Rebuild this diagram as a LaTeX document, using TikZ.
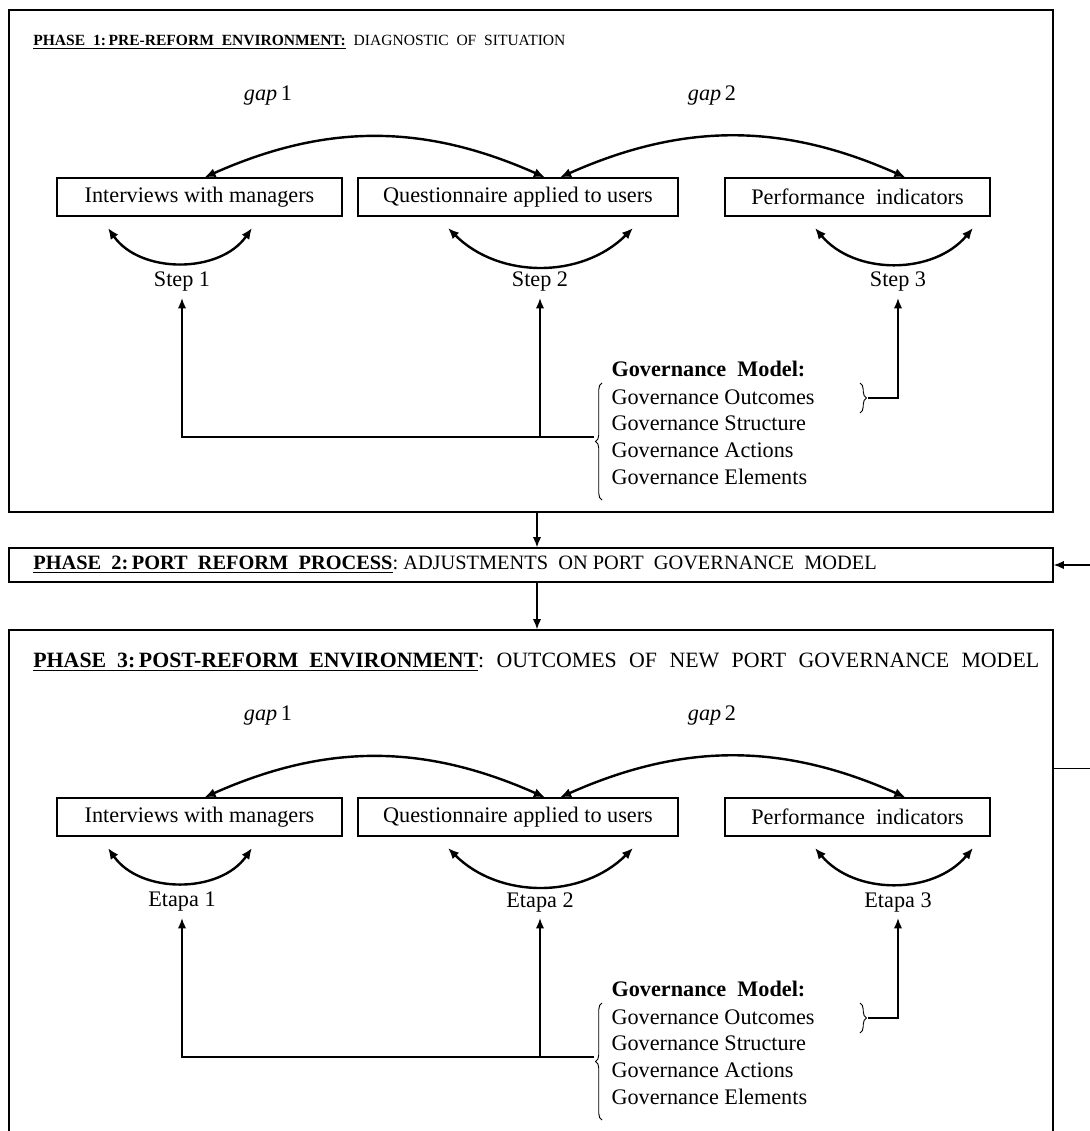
\documentclass[tikz,border=0pt]{standalone}
\usepackage{fontspec}
\setmainfont{Liberation Serif}
\usetikzlibrary{arrows.meta,positioning,calc,decorations.pathreplacing}

\tikzset{
  phasebox/.style={draw, line width=0.8pt, minimum width=563.76pt, inner sep=0pt},
  hdtext/.style={anchor=west, inner sep=0pt, font=\fontsize{#1}{14}\selectfont},
  taskbox/.style={draw, line width=0.7pt, minimum height=20.5pt, inner sep=0pt},
  twoway/.style={{Latex[length=6pt,width=5pt]}-{Latex[length=6pt,width=5pt]}, line width=1.3pt},
  feed/.style={-{Latex[length=5.5pt,width=4.5pt]}, line width=0.7pt},
  gbrace/.style={decorate, decoration={brace, amplitude=3.5pt}, line width=0.5pt},
}

\begin{document}
\begin{tikzpicture}[x=0.54pt,y=-0.54pt,font=\fontsize{12}{14.4}\selectfont]
\useasboundingbox (0,0) rectangle (1090,1131);
% phase frames
\node[phasebox, minimum height=271.08pt] (ph1) at (531,261) {};
\node[phasebox, minimum height=18.36pt] (ph2) at (531,565) {};
\node[phasebox, minimum height=278.1pt] (ph3) at (531,887.5) {};
\node[hdtext=8.4] (hd1) at (33,42) {\textbf{\underline{PHASE\ \ 1:\,PRE-REFORM\ \ ENVIRONMENT:}}\ \ DIAGNOSTIC\ \ OF\ \ SITUATION};
\node[hdtext=11] (hd2) at (33,565) {\textbf{\underline{PHASE\ \ 2:\,PORT\ \ REFORM\ \ PROCESS}}:\ ADJUSTMENTS\ \ ON\ PORT\ \ GOVERNANCE\ \ MODEL};
\node[hdtext=11.8] (hd3) at (33,662) {\textbf{\underline{PHASE\ \ 3:\,POST-REFORM\ \ ENVIRONMENT}}\makebox[303pt][s]{:\ \ OUTCOMES\ \ OF\ \ NEW\ \ PORT\ \ GOVERNANCE\ \ MODEL}};
\draw[feed] ($(ph1.south)+(6,0)$) -- ($(ph2.north)+(6,0)$);
\draw[feed] ($(ph2.south)+(6,0)$) -- ($(ph3.north)+(6,0)$);
\draw[feed] ($(ph3.north east)+(0,139)$) -- ++(60,0) |- (ph2.east);
% same layout in phase 1 and phase 3
\foreach \p/\off/\word in {1/0/Step,3/620/Etapa} {
  \node[taskbox, minimum width=153.9pt] (int\p) at (199.5,197+\off) {Interviews with managers};
  \node[taskbox, minimum width=172.8pt] (que\p) at (518,197+\off) {Questionnaire applied to users};
  \node[taskbox, minimum width=143.1pt] (per\p) at (857.5,197+\off) {Performance\ \ indicators};
  \node (ga\p) at (268,96+\off) {\textit{gap}\,1};
  \node (gb\p) at (712,96+\off) {\textit{gap}\,2};
  \draw[twoway] ($(int\p.north)+(5,0)$) to[bend left=24] ($(que\p.north)+(27,0)$);
  \draw[twoway] ($(que\p.north)+(42,0)$) to[bend left=24] ($(per\p.north)+(48,0)$);
  \node (sa\p) at (182,282+\off) {\word\ 1};
  \node (sb\p) at (540,282+\off) {\word\ 2};
  \node (sc\p) at (898,282+\off) {\word\ 3};
  \draw[twoway] (108,228+\off) to[bend right=55] (252,228+\off);
  \draw[twoway] (448,228+\off) to[bend right=45] (633,228+\off);
  \draw[twoway] (815,228+\off) to[bend right=50] (973,228+\off);
  \node[anchor=west] (gm\p) at (605,369+\off) {\textbf{Governance\ \ Model:}};
  \node[anchor=west, align=left] (gl\p) at (605,437+\off) {Governance Outcomes\\Governance Structure\\Governance Actions\\Governance Elements};
  \draw[gbrace] (602,500+\off) -- (602,383+\off);
  \draw[gbrace] (860,383+\off) -- (860,413+\off);
  \coordinate (gt\p) at (594,437+\off);
  \coordinate (rt\p) at (868,398+\off);
  \draw[feed] (gt\p) -| (sa\p.south);
  \draw[feed] (gt\p -| sb\p) -- (sb\p.south);
  \draw[feed] (rt\p) -| (sc\p.south);
}
\end{tikzpicture}
\end{document}
